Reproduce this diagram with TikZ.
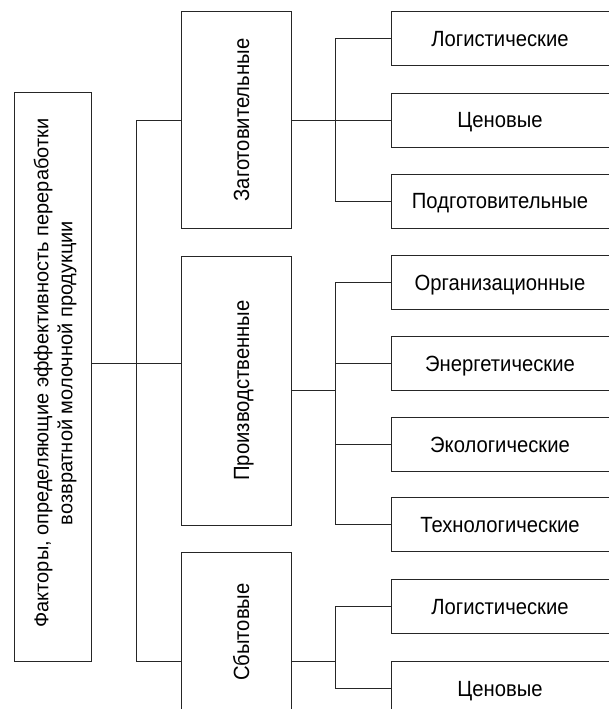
\documentclass[tikz,border=0pt]{standalone}
\usepackage{fontspec}
\setmainfont{Liberation Sans}
\newfontfamily\condfont{Liberation Sans}[FakeStretch=0.92]
\begin{document}
\begin{tikzpicture}[x=1pt,y=-1pt,
  box/.style={draw=black!85, line width=0.9pt, inner sep=0pt},
  rbox/.style={box, minimum width=218pt, minimum height=54pt,
    font=\condfont\fontsize{22}{25}\selectfont, text height=15.5pt, text depth=0pt},
  conn/.style={draw=black!85, line width=0.9pt},
  vtext/.style={font=\condfont\fontsize{22}{25}\selectfont, rotate=90, anchor=base, inner sep=0pt}]
\fill[white] (0,0) rectangle (608,709);
\useasboundingbox (0,0) rectangle (608,709);
% left box
\node[box, minimum width=77pt, minimum height=569pt] (L) at (53,376.5) {};
\node[rotate=90, align=center, inner sep=0pt, font=\fontsize{20}{24}\selectfont] (Lt) at (55,373)
  {Факторы, определяющие эффективность переработки\\возвратной молочной продукции};
% middle boxes
\node[box, minimum width=110pt, minimum height=217pt] (M1) at (236,120) {};
\node[box, minimum width=110pt, minimum height=269pt] (M2) at (236,390.5) {};
\node[box, minimum width=110pt, minimum height=219pt] (M3) at (236,661.5) {};
\node[vtext] (M1t) at (249,120) {Заготовительные};
\node[vtext] (M2t) at (249,390.5) {Производственные};
\node[vtext] (M3t) at (249,632) {Сбытовые};
% right boxes
\node[rbox] (R1) at (500,38.5) {Логистические};
\node[rbox] (R2) at (500,120) {Ценовые};
\node[rbox] (R3) at (500,201) {Подготовительные};
\node[rbox] (R4) at (500,282.5) {Организационные};
\node[rbox] (R5) at (500,363.5) {Энергетические};
\node[rbox] (R6) at (500,444.3) {Экологические};
\node[rbox] (R7) at (500,524.7) {Технологические};
\node[rbox] (R8) at (500,606.7) {Логистические};
\node[rbox] (R9) at (500,688.5) {Ценовые};
% connectors
\coordinate (busL) at (136,363);
\coordinate (b1) at (335.5,0);
\draw[conn] (L.east |- busL) -- (M2.west |- busL);
\draw[conn] (M1.west) -- (M1.west -| busL) -- (M3.west -| busL) -- (M3.west);
% top group
\draw[conn] (M1.east) -- (M1.east -| R2.west);
\draw[conn] (R1.west) -- (R1.west -| b1) -- (R3.west -| b1) -- (R3.west);
% middle group
\draw[conn] (M2.east) -- (M2.east -| b1);
\draw[conn] (R4.west) -- (R4.west -| b1) -- (R7.west -| b1) -- (R7.west);
\draw[conn] (R5.west -| b1) -- (R5.west);
\draw[conn] (R6.west -| b1) -- (R6.west);
% bottom group
\draw[conn] (M3.east) -- (M3.east -| b1);
\draw[conn] (R8.west) -- (R8.west -| b1) -- (R9.west -| b1) -- (R9.west);
\end{tikzpicture}
\end{document}
